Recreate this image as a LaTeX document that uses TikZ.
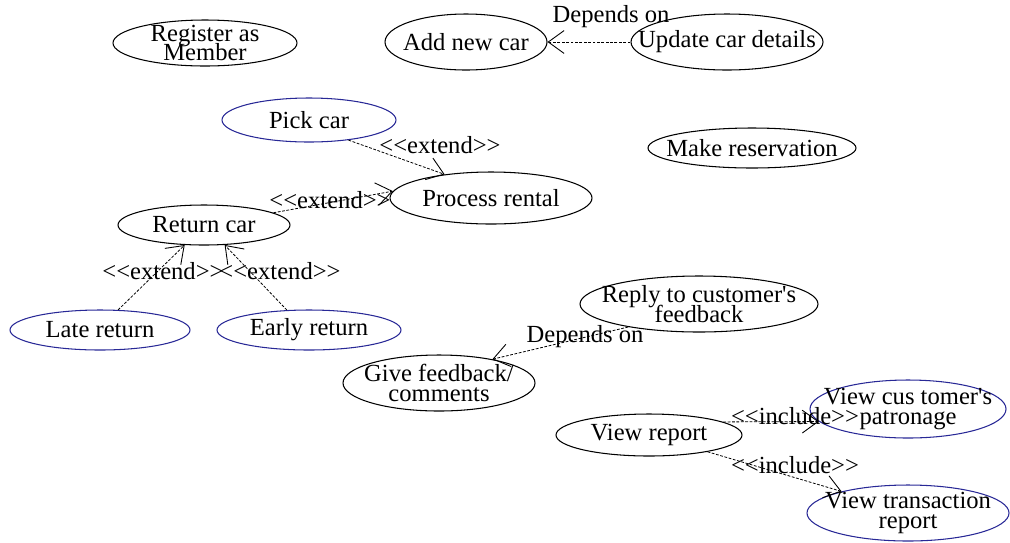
\documentclass[tikz,border=0pt]{standalone}
\usepackage{fontspec}
\setmainfont{Liberation Serif}[Ligatures=TeXOff]
\usetikzlibrary{shapes.geometric}
\usetikzlibrary{arrows.meta}

\definecolor{ucblue}{RGB}{40,40,150}
\newcommand{\stereo}[1]{<<#1>>}
\newcommand{\ucfont}{\fontsize{14}{11}\selectfont\lineskiplimit-20pt\relax}

\tikzset{
  usecase/.style 2 args={ellipse, draw, line width=0.6pt,
    inner xsep=-30pt, inner ysep=-20pt,
    align=center, font=\ucfont,
    minimum width=#1*0.02cm, minimum height=#2*0.02cm},
  ext/.style={draw=ucblue},
  rel/.style={dashed, dash pattern=on 1.6pt off 0.9pt, line width=0.45pt,
    -{Straight Barb[length=9pt,width=13pt,line width=0.5pt]}},
  lbl/.style={inner sep=0pt, font=\fontsize{14}{12}\selectfont}
}

\begin{document}
\begin{tikzpicture}[x=0.02cm, y=-0.02cm]
  \useasboundingbox (0,0) rectangle (1010,542);

  \node [usecase={184}{46}]           (register) at (205,43)  {Register as\\Member};
  \node [usecase={162}{56}]           (addcar)   at (466,42)  {Add new car};
  \node [usecase={192}{56}]           (update)   at (727,42)  {Update car details};
  \node [usecase={174}{44}, ext]      (pick)     at (309,120) {Pick car};
  \node [usecase={208}{40}]           (reserve)  at (752,148) {Make reservation};
  \node [usecase={202}{52}]           (process)  at (491,198) {Process rental};
  \node [usecase={172}{40}]           (return)   at (204,225) {Return car};
  \node [usecase={180}{40}, ext]      (late)     at (100,330) {Late return};
  \node [usecase={184}{40}, ext]      (early)    at (309,330) {Early return};
  \node [usecase={238}{56}]           (reply)    at (699,304) {Reply to customer's\\feedback};
  \node [usecase={192}{56}]           (feedback) at (439,383) {Give feedback/\\comments};
  \node [usecase={186}{42}]           (report)   at (649,435) {View report};
  \node [usecase={196}{58}, ext]      (patron)   at (908,409) {View cus tomer's\\patronage};
  \node [usecase={202}{56}, ext]      (trans)    at (908,513) {View transaction\\report};

  \draw [rel] (update.180) -- (addcar.0);
  \draw [rel] (pick.-27) -- (process.153);
  \draw [rel] (return.10) -- (process.176);
  \draw [rel] (late.48) -- (return.226);
  \draw [rel] (early.138) -- (return.-44);
  \draw [rel] (reply.198) -- (feedback.24);
  \draw [rel] (report.10) -- (patron.188);
  \draw [rel] (report.-16) -- (trans.162);

  \node [lbl] (dep1) at (611,17)  {Depends on};
  \node [lbl] (ext1) at (440,145) {\stereo{extend}};
  \node [lbl] (ext2) at (330,200) {\stereo{extend}};
  \node [lbl] (ext3) at (163,271) {\stereo{extend}};
  \node [lbl] (ext4) at (280,271) {\stereo{extend}};
  \node [lbl] (dep2) at (585,337) {Depends on};
  \node [lbl] (inc1) at (795,416) {\stereo{include}};
  \node [lbl] (inc2) at (795,465) {\stereo{include}};
\end{tikzpicture}
\end{document}
